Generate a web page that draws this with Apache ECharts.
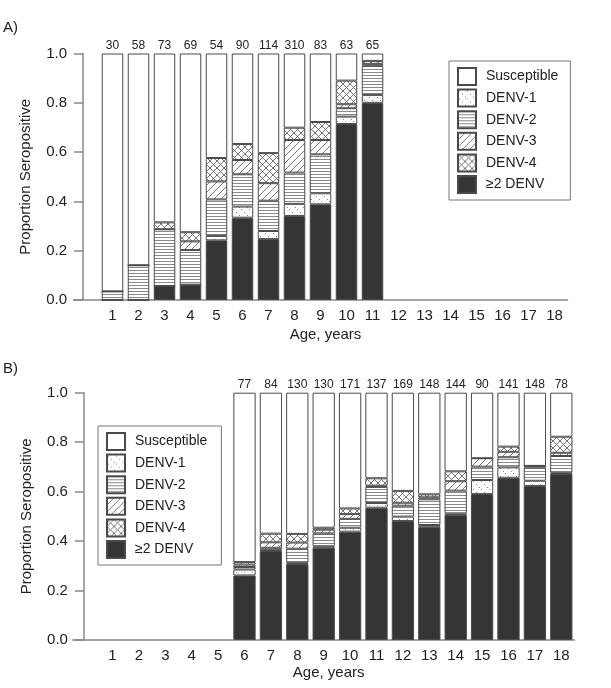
<!DOCTYPE html>
<html>
<head>
<meta charset="utf-8">
<script src="https://cdn.jsdelivr.net/npm/echarts@6/dist/echarts.min.js"></script>
<style>html,body{margin:0;padding:0;background:#fff;}#c{width:611px;height:688px;}</style>
</head>
<body>
<div id="c"></div>
<script>
// ---------- Data ----------
const seriesNames = ['≥2 DENV', 'DENV-1', 'DENV-2', 'DENV-3', 'DENV-4', 'Susceptible'];
const legendOrder = ['Susceptible', 'DENV-1', 'DENV-2', 'DENV-3', 'DENV-4', '≥2 DENV'];
// category slots: an empty leading slot, then ages 1..18
const xCategories = ['', '1','2','3','4','5','6','7','8','9','10','11','12','13','14','15','16','17','18'];
const yTickLabels = [0.0, 0.2, 0.4, 0.6, 0.8, 1.0];

// Panel A
const agesA   = ['1', '2', '3', '4', '5', '6', '7', '8', '9', '10', '11'];
const countsA = [30, 58, 73, 69, 54, 90, 114, 310, 83, 63, 65];
const multiA  = [0.000, 0.000, 0.057, 0.062, 0.242, 0.334, 0.247, 0.341, 0.388, 0.714, 0.800];
const denv1A  = [0.000, 0.000, 0.000, 0.000, 0.018, 0.045, 0.033, 0.049, 0.045, 0.030, 0.032];
const denv2A  = [0.035, 0.141, 0.230, 0.141, 0.148, 0.131, 0.123, 0.127, 0.158, 0.034, 0.118];
const denv3A  = [0.000, 0.000, 0.000, 0.035, 0.073, 0.058, 0.071, 0.132, 0.058, 0.016, 0.008];
const denv4A  = [0.000, 0.000, 0.028, 0.037, 0.095, 0.065, 0.122, 0.050, 0.073, 0.096, 0.012];
const suscA   = [0.965, 0.859, 0.685, 0.725, 0.424, 0.367, 0.404, 0.301, 0.278, 0.110, 0.030];

// Panel B
const agesB   = ['6', '7', '8', '9', '10', '11', '12', '13', '14', '15', '16', '17', '18'];
const countsB = [77, 84, 130, 130, 171, 137, 169, 148, 144, 90, 141, 148, 78];
const multiB  = [0.261, 0.360, 0.307, 0.373, 0.438, 0.535, 0.481, 0.458, 0.505, 0.590, 0.656, 0.623, 0.671];
const denv1B  = [0.024, 0.005, 0.005, 0.006, 0.016, 0.019, 0.018, 0.007, 0.007, 0.057, 0.042, 0.021, 0.005];
const denv2B  = [0.010, 0.008, 0.057, 0.052, 0.036, 0.065, 0.044, 0.104, 0.092, 0.054, 0.041, 0.054, 0.068];
const denv3B  = [0.010, 0.022, 0.025, 0.015, 0.019, 0.005, 0.012, 0.008, 0.038, 0.034, 0.022, 0.006, 0.013];
const denv4B  = [0.010, 0.035, 0.035, 0.008, 0.023, 0.030, 0.048, 0.012, 0.040, 0.000, 0.021, 0.000, 0.065];
const suscB   = [0.685, 0.570, 0.571, 0.546, 0.468, 0.346, 0.397, 0.411, 0.318, 0.265, 0.218, 0.296, 0.178];

// ---------- Patterns ----------
function tile(w, h, draw) {
  const c = document.createElement('canvas');
  c.width = w; c.height = h;
  const ctx = c.getContext('2d');
  ctx.fillStyle = '#fff'; ctx.fillRect(0, 0, w, h);
  draw(ctx, w, h);
  return { image: c, repeat: 'repeat' };
}
const patD1 = tile(8, 8, (ctx) => { ctx.fillStyle = '#8a8a8a'; [[1,1],[4,4],[7,7]].forEach(p => ctx.fillRect(p[0], p[1], 1, 1)); });
const patD2 = tile(4, 3, (ctx) => { ctx.fillStyle = '#8a8a8a'; ctx.fillRect(0, 0, 4, 1); });
function diag(ctx, s, dir) {
  ctx.beginPath();
  for (let k = -1; k <= 1; k++) {
    if (dir > 0) { ctx.moveTo(k * s, s); ctx.lineTo(k * s + s, 0); }
    else { ctx.moveTo(k * s, 0); ctx.lineTo(k * s + s, s); }
  }
  ctx.stroke();
}
const patD3 = tile(7, 7, (ctx, w) => { ctx.strokeStyle = '#666'; ctx.lineWidth = 0.9; diag(ctx, w, 1); });
const patD4 = tile(7, 7, (ctx, w) => { ctx.strokeStyle = '#666'; ctx.lineWidth = 0.9; diag(ctx, w, 1); diag(ctx, w, -1); });

const fills = {
  '≥2 DENV': '#353535',
  'DENV-1': patD1,
  'DENV-2': patD2,
  'DENV-3': patD3,
  'DENV-4': patD4,
  'Susceptible': '#ffffff'
};

const FONT = '"Liberation Sans", Arial, sans-serif';

function buildSeries(idx, ages, arrs, counts, barWidth) {
  return seriesNames.map((name, k) => {
    const s = {
      name: name,
      type: 'bar',
      xAxisIndex: idx,
      yAxisIndex: idx,
      stack: 'panel' + idx,
      barWidth: barWidth,
      data: ages.map((a, i) => [a, arrs[k][i]]),
      itemStyle: { color: fills[name], borderColor: '#4a4a4a', borderWidth: 1 },
      emphasis: { disabled: true },
      animation: false
    };
    if (name === 'Susceptible') {
      s.label = {
        show: true, position: 'top', distance: 2,
        formatter: (p) => String(counts[p.dataIndex]),
        fontFamily: FONT, fontSize: 12, color: '#222'
      };
    }
    return s;
  });
}

function xAxisFor(idx, gap) {
  return {
    gridIndex: idx, type: 'category', data: xCategories, boundaryGap: true,
    name: 'Age, years', nameLocation: 'middle', nameGap: gap,
    nameTextStyle: { fontFamily: FONT, fontSize: 15, color: '#222', padding: [0, 0, 0, 10] },
    axisLine: { show: true, lineStyle: { color: '#888', width: 1.5 } },
    axisTick: { show: false },
    splitLine: { show: false },
    axisLabel: { fontFamily: FONT, fontSize: 15, color: '#222', margin: 8, interval: 0 }
  };
}
function yAxisFor(idx, offset) {
  return {
    gridIndex: idx, type: 'value', min: 0, max: 1, interval: 0.2, offset: offset,
    name: 'Proportion Seropositive', nameLocation: 'middle', nameGap: 50,
    nameTextStyle: { fontFamily: FONT, fontSize: 15, color: '#222' },
    axisLine: { show: true, lineStyle: { color: '#888', width: 1.5 } },
    axisTick: { show: true, length: 9, lineStyle: { color: '#888', width: 1.5 } },
    splitLine: { show: false },
    axisLabel: {
      fontFamily: FONT, fontSize: 15, color: '#222', margin: 16,
      formatter: (v) => { const t = yTickLabels.find(x => Math.abs(x - v) < 1e-6); return t === undefined ? '' : t.toFixed(1); }
    }
  };
}

function legendFor(left, top, padRight) {
  return {
    orient: 'vertical', left: left, top: top,
    data: legendOrder.map(n => ({ name: n, icon: 'rect' })),
    itemWidth: 18, itemHeight: 17, itemGap: 2.6,
    padding: [6, padRight, 6, 8],
    borderColor: '#777', borderWidth: 1,
    selectedMode: false,
    textStyle: { fontFamily: FONT, fontSize: 14, lineHeight: 17, color: '#222', padding: [0, 0, 0, 5] }
  };
}

const chart = echarts.init(document.getElementById('c'), null, { renderer: 'canvas' });
chart.setOption({
  backgroundColor: '#fff',
  animation: false,
  grid: [
    { left: 73.5, top: 53.5, width: 494, height: 246.5 },
    { left: 72.9, top: 392.7, width: 501.6, height: 247.3 }
  ],
  xAxis: [xAxisFor(0, 27), xAxisFor(1, 25)],
  yAxis: [yAxisFor(0, -9.5), yAxisFor(1, -11)],
  legend: [legendFor(449, 61, 12), legendFor(98, 426, 14)],
  series: [].concat(
    buildSeries(0, agesA, [multiA, denv1A, denv2A, denv3A, denv4A, suscA], countsA, 21.5),
    buildSeries(1, agesB, [multiB, denv1B, denv2B, denv3B, denv4B, suscB], countsB, 22.3)
  ),
  graphic: [
    { type: 'text', left: 3, top: 20, style: { text: 'A)', font: '15px ' + FONT, fill: '#222' } },
    { type: 'text', left: 3, top: 361, style: { text: 'B)', font: '15px ' + FONT, fill: '#222' } }
  ]
});
</script>
</body>
</html>
